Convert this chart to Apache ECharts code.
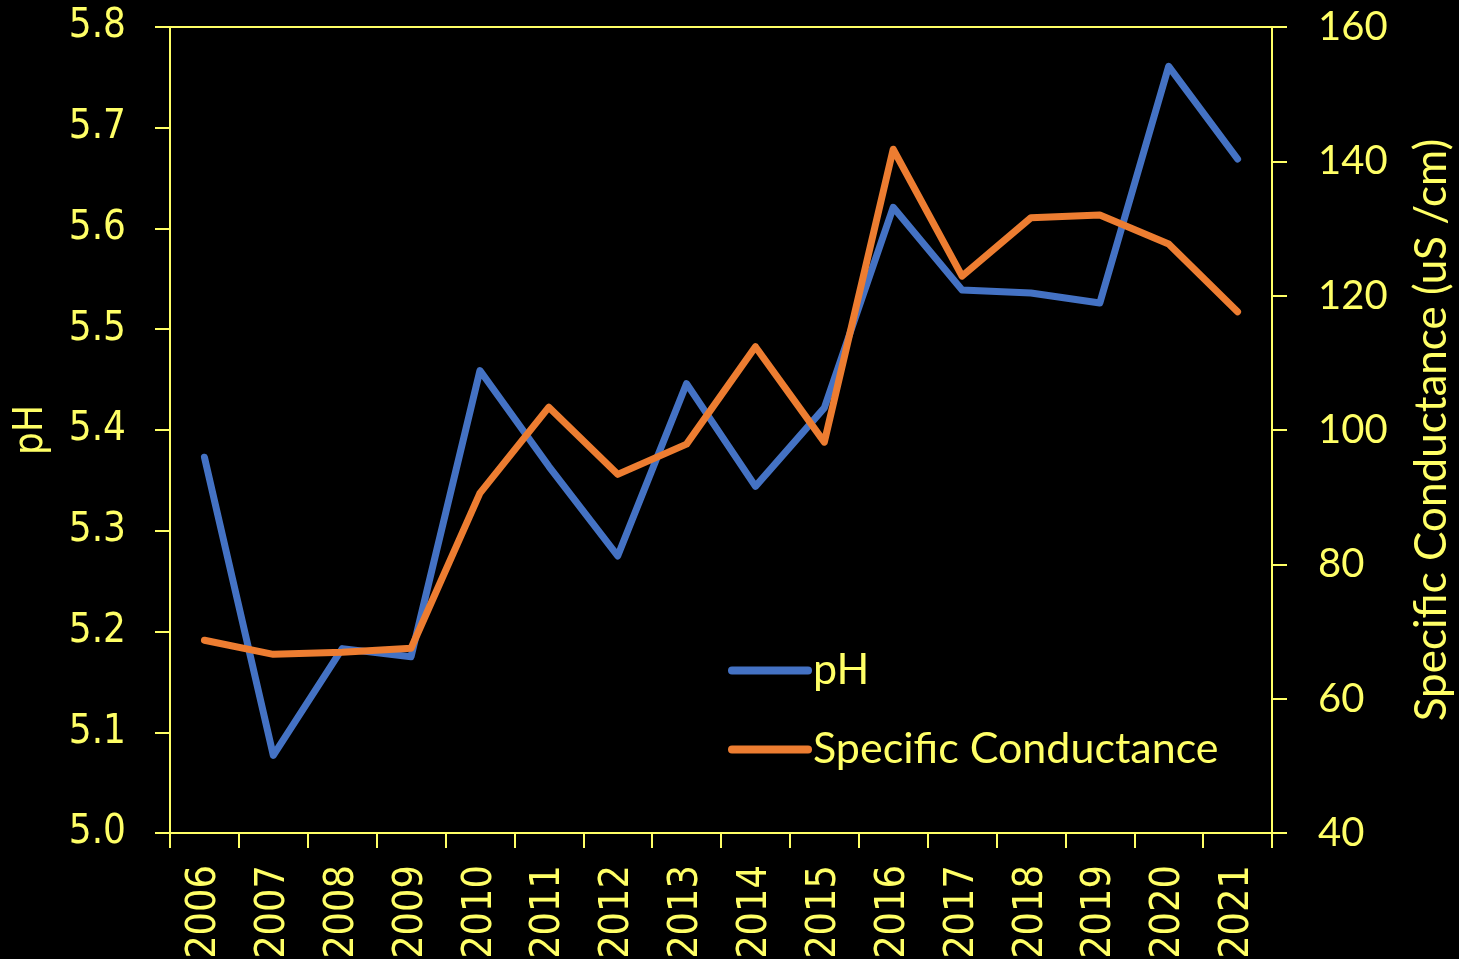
<!DOCTYPE html>
<html>
<head>
<meta charset="utf-8">
<script src="https://cdn.jsdelivr.net/npm/echarts@6/dist/echarts.min.js"></script>
<style>
html,body{margin:0;padding:0;background:#000;}
#chart{width:1459px;height:959px;}
</style>
</head>
<body>
<div id="chart"></div>
<script>
const years = ['2006','2007','2008','2009','2010','2011','2012','2013','2014','2015','2016','2017','2018','2019','2020','2021'];
const phValues = [5.373, 5.077, 5.183, 5.175, 5.459, 5.364, 5.275, 5.446, 5.344, 5.422, 5.621, 5.539, 5.536, 5.526, 5.761, 5.669];
const conductanceValues = [68.7, 66.6, 66.9, 67.5, 90.6, 103.4, 93.4, 97.9, 112.4, 98.2, 141.8, 122.9, 131.6, 132.0, 127.7, 117.6];

const YEL = '#FFFF66';
const chart = echarts.init(document.getElementById('chart'));
chart.setOption({
  backgroundColor: '#000',
  animation: false,
  grid: {left: 170, right: 187, top: 27, bottom: 126, show: true, borderColor: YEL, borderWidth: 2, backgroundColor: 'transparent', outerBoundsMode: 'none', containLabel: false},
  legend: {
    left: 723, top: 644, orient: 'vertical', itemGap: 36,
    itemWidth: 76, itemHeight: 20,
    itemStyle: {opacity: 0},
    lineStyle: {width: 8, cap: 'round'},
    textStyle: {color: YEL, fontFamily: 'Lato', fontSize: 43},
    data: ['pH', 'Specific Conductance']
  },
  xAxis: {
    type: 'category', data: years, boundaryGap: true,
    axisLine: {lineStyle: {color: YEL, width: 2}},
    axisTick: {show: true, length: 15, lineStyle: {color: YEL, width: 2}},
    axisLabel: {color: YEL, rotate: 90, margin: 32, fontSize: 41, fontFamily: 'DejaVu Sans Condensed, DejaVu Sans', interval: 0}
  },
  yAxis: [{
    type: 'value', min: 5.0, max: 5.8, interval: 0.1, position: 'left',
    name: 'pH', nameLocation: 'middle', nameGap: 118, nameRotate: 90,
    nameTextStyle: {color: YEL, fontFamily: 'DejaVu Sans Condensed, DejaVu Sans', fontSize: 40},
    axisLine: {show: true, lineStyle: {color: YEL, width: 2}},
    axisTick: {show: true, length: 15, lineStyle: {color: YEL, width: 2}},
    splitLine: {show: false},
    axisLabel: {color: YEL, fontSize: 40, margin: 44, fontFamily: 'DejaVu Sans Condensed, DejaVu Sans', formatter: v => v.toFixed(1)}
  }, {
    type: 'value', min: 40, max: 160, interval: 20, position: 'right',
    name: 'Specific Conductance (uS /cm)', nameLocation: 'middle', nameGap: 138, nameRotate: 90,
    nameTextStyle: {color: YEL, fontFamily: 'Lato', fontSize: 44},
    axisLine: {show: true, lineStyle: {color: YEL, width: 2}},
    axisTick: {show: true, length: 15, lineStyle: {color: YEL, width: 2}},
    splitLine: {show: false},
    axisLabel: {color: YEL, fontSize: 40, margin: 46, fontFamily: 'Lato'}
  }],
  series: [{
    name: 'pH', type: 'line', data: phValues, yAxisIndex: 0,
    symbol: 'none', color: '#4472C4',
    lineStyle: {width: 7, color: '#4472C4', cap: 'round', join: 'round'}
  }, {
    name: 'Specific Conductance', type: 'line', data: conductanceValues, yAxisIndex: 1,
    symbol: 'none', color: '#ED7D31',
    lineStyle: {width: 7, color: '#ED7D31', cap: 'round', join: 'round'}
  }]
});
</script>
</body>
</html>
